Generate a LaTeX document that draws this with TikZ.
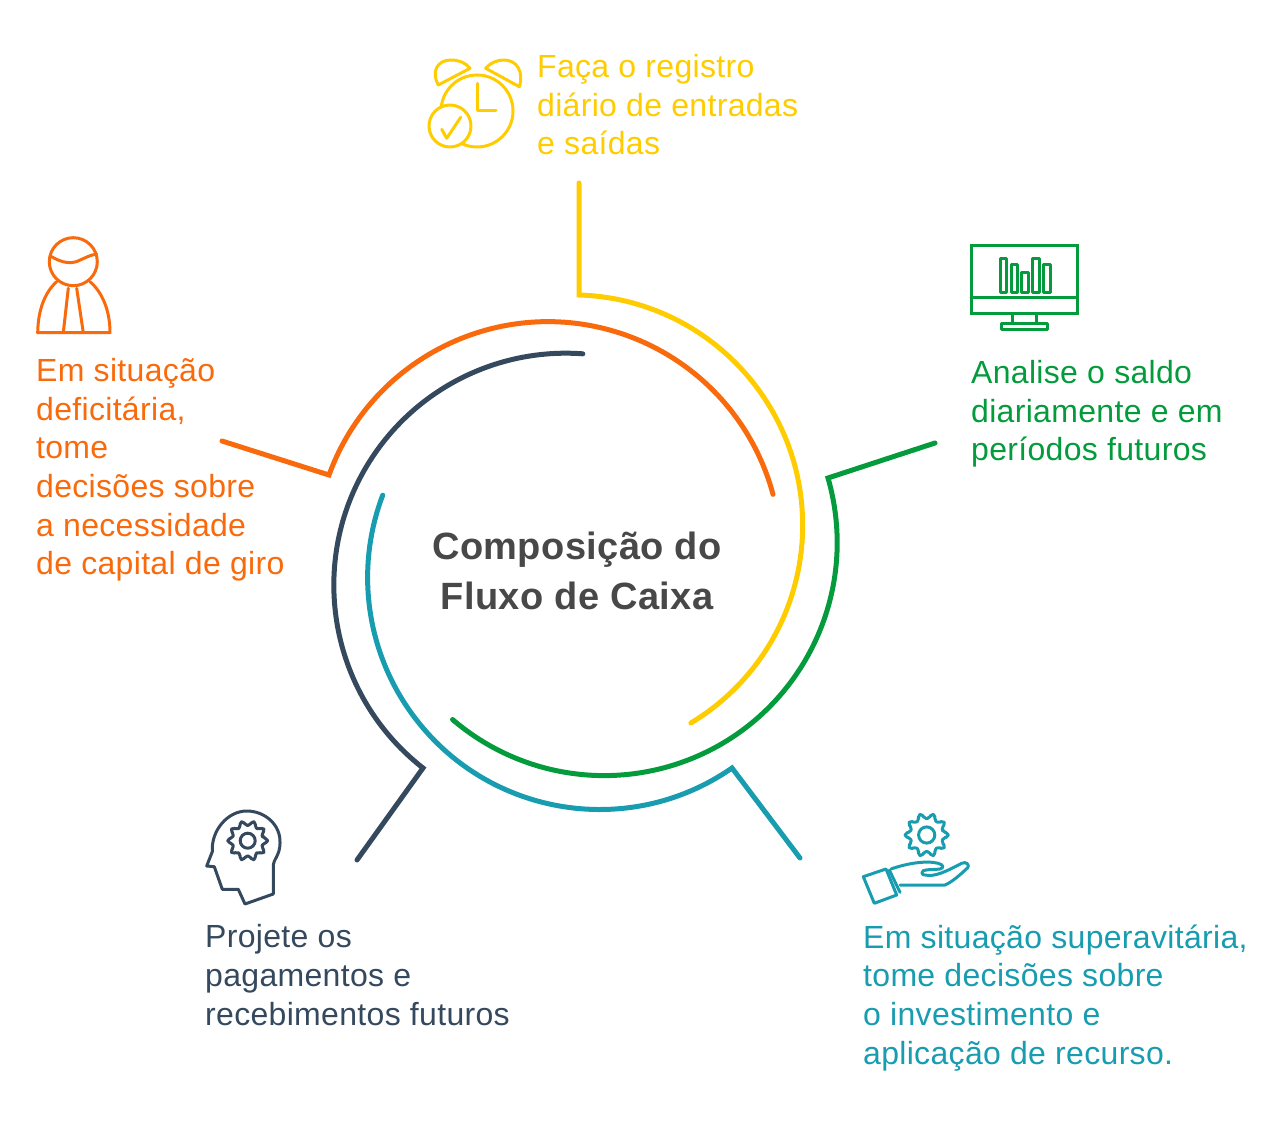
\documentclass[tikz,border=0pt]{standalone}
\usepackage{fontspec}
\setmainfont[LetterSpace=1]{Liberation Sans}
\definecolor{relogio}{HTML}{FFCC00}
\definecolor{deficit}{HTML}{F96A0C}
\definecolor{saldo}{HTML}{049B3D}
\definecolor{superavit}{HTML}{189CB0}
\definecolor{projeto}{HTML}{34495E}
\definecolor{titulo}{HTML}{484848}
\tikzset{
    arco/.style={line width=5pt,line cap=round,miter limit=10},
    icone/.style={line width=3pt,line join=round,line cap=round},
    rotulo/.style={anchor=north west,inner sep=0pt,align=left,font=\fontsize{32}{38.7}\selectfont},
    engrenagem/.pic={
        \draw[icone] (0,0) circle (7.5);
        \draw[icone,rounded corners=2pt] (-9:15.5)
            \foreach \a in {0,36,...,324} {
                -- (\a-9:15.5) -- (\a-6:20) -- (\a+6:20) -- (\a+9:15.5)
            } -- cycle;
    }
}
\begin{document}
\begin{tikzpicture}[x=1pt,y=-1pt]
    \useasboundingbox (0,0) rectangle (1280,1123);
    %% arcs
    \draw[arco,relogio] (579,183) -- (579,295) arc(-88.3:59:230.5);
    \draw[arco,deficit] (222,441) -- (329,475) arc(200:345:233);
    \draw[arco,saldo] (935,443) -- (828,478) arc(-16.1:130.6:233);
    \draw[arco,superavit] (800,858) -- (732,768) arc(55.2:200.8:232);
    \draw[arco,projeto] (357,860) -- (423,768) arc(128:274.2:232);
    %% center title
    \node[align=center,inner sep=0pt,text=titulo,font=\fontsize{38}{50}\selectfont\bfseries] (titulo) at (577,571) {Composição do\\Fluxo de Caixa};
    %% labels
    \node[rotulo,text=relogio] (registro) at (537,54) {Faça o registro\\diário de entradas\\e saídas};
    \node[rotulo,text=saldo] (analise) at (971,360) {Analise o saldo\\diariamente e em\\períodos futuros};
    \node[rotulo,text=deficit] (decisoes) at (36,358) {Em situação\\deficitária,\\tome\\decisões sobre\\a necessidade\\de capital de giro};
    \node[rotulo,text=projeto] (projete) at (205,924.5) {Projete os\\pagamentos e\\recebimentos futuros};
    \node[rotulo,text=superavit] (investe) at (863,924.5) {Em situação superavitária,\\tome decisões sobre\\o investimento e\\aplicação de recurso.};
    %% clock icon
    \begin{scope}[relogio]
        \draw[icone] (477,111) circle (36);
        \draw[icone] (477.3,83.3) -- (477.3,110.7) -- (496,110.7);
        \draw[icone] (438.3,85) .. controls (431,72) and (437,60) .. (451,60) .. controls (459,60) and (466,63) .. (470,68.3) -- cycle;
        \draw[icone] (485.7,68.3) .. controls (490,63) and (497,60) .. (504,60) .. controls (517,60) and (524,72) .. (519.3,86.7) -- cycle;
        \draw[icone,fill=white] (450,126) circle (21);
        \draw[icone] (441.7,129.3) -- (446.7,138.3) -- (460.7,117.3);
    \end{scope}
    %% monitor icon
    \begin{scope}[saldo]
        \draw[icone,line cap=butt,line join=miter] (971,245.7) rectangle (1077.3,313.3);
        \draw[icone] (971,297.3) -- (1077.3,297.3);
        \draw[icone] (1012.7,313.3) -- (1012.7,323.3);
        \draw[icone] (1036,313.3) -- (1036,323.3);
        \draw[icone] (1001.7,323.3) rectangle (1047.7,330);
        \foreach \x/\y in {1000/259,1011/264.3,1021.7/272.3,1032.7/259,1043.3/264.3}
            \draw[icone] (\x,\y) rectangle (\x+6.7,292.3);
    \end{scope}
    %% person icon
    \begin{scope}[deficit]
        \draw[icone] (73.3,261.7) circle (24);
        \draw[icone] (51.7,256.7) .. controls (62,263) and (71,264) .. (78,261) .. controls (85,258) and (90,255) .. (96.7,254);
        \draw[icone] (56.7,281.7) .. controls (45,292) and (38,310) .. (37.7,332.7) -- (110,332.7) .. controls (110,310) and (102,292) .. (90,281.7);
        \draw[icone] (68.3,288.3) -- (63.3,332.7);
        \draw[icone] (76.7,288.3) -- (83.3,332.7);
    \end{scope}
    %% head icon
    \begin{scope}[projeto]
        \draw[icone] (273.3,894) -- (245,904) -- (238.3,889.3) -- (222.3,889.3) -- (214.3,866.7) -- (206.7,866) -- (212.3,851.7)
            .. controls (211,830) and (228,811) .. (246.7,811) .. controls (265,811) and (281,825) .. (280,843.3)
            .. controls (280,855) and (273.3,860) .. (273.3,865) -- cycle;
        \pic at (247.7,840.7) {engrenagem};
    \end{scope}
    %% hand icon
    \begin{scope}[superavit]
        \pic[scale=1.08] at (926.7,835) {engrenagem};
        \draw[icone] (863.3,876.7) -- (886,869) -- (896.7,895) -- (874.3,903.3) -- cycle;
        \draw[icone] (889.3,870) -- (900,892.3);
        \draw[icone] (891,869) .. controls (905,864) and (925,860) .. (938.3,863.3)
            .. controls (944,865) and (944,868) .. (940,869) .. controls (933,870) and (928,869) .. (923.3,870.7)
            .. controls (921,873) and (922,875) .. (925,875) .. controls (935,877) and (945,872) .. (961.7,863.3)
            .. controls (966,861) and (970,865) .. (967.7,867.7) .. controls (960,875) and (952,882) .. (945,885)
            -- (900,885);
    \end{scope}
\end{tikzpicture}
\end{document}
